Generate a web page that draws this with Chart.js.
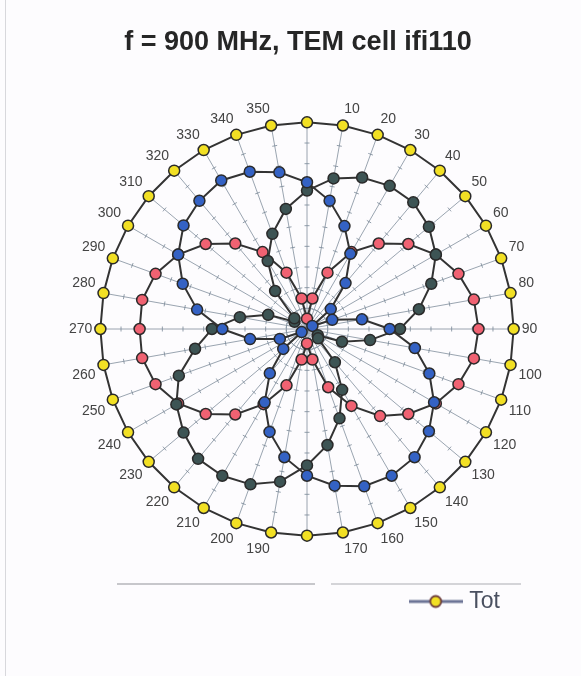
<!DOCTYPE html>
<html>
<head>
<meta charset="utf-8">
<script src="https://cdn.jsdelivr.net/npm/chart.js@4/dist/chart.umd.min.js"></script>
<style>
  html, body { margin: 0; padding: 0; background: #fdfcfe; }
  body { width: 581px; height: 676px; position: relative; overflow: hidden; }
  #wrap { position: absolute; left: 0; top: 0; width: 581px; height: 676px; }
  #edge { position: absolute; left: 5px; top: 0; width: 1px; height: 676px; background: #d8d8dc; }
  .faint { position: absolute; height: 2px; top: 583px; background: #d4d4d8; }
</style>
</head>
<body>
<div id="edge"></div>
<div class="faint" style="left:117px; width:198px; background:#9a9aa0; opacity:0.55;"></div>
<div class="faint" style="left:331px; width:190px;"></div>
<div id="wrap"><canvas id="c" width="581" height="676"></canvas></div>
<script>
// angle labels (degrees); 0 and 180 are not shown in the original (empty)
const angleLabels = [[], '10', '20', '30', '40', '50', '60', '70', '80', '90', '100', '110', '120', '130', '140', '150', '160', '170',
                     [], '190', '200', '210', '220', '230', '240', '250', '260', '270', '280', '290', '300', '310', '320', '330', '340', '350'];

const totValues = [1,1,1,1,1,1,1,1,1,1,1,1,1,1,1,1,1,1,1,1,1,1,1,1,1,1,1,1,1,1,1,1,1,1,1,1];

const blueValues = [0.71, 0.63, 0.53, 0.42, 0.29, 0.15, 0.03, 0.13, 0.27, 0.40, 0.53, 0.63, 0.71, 0.77, 0.81, 0.82, 0.81, 0.77,
                    0.71, 0.63, 0.53, 0.41, 0.28, 0.15, 0.03, 0.14, 0.28, 0.41, 0.54, 0.64, 0.72, 0.78, 0.81, 0.83, 0.81, 0.77];

const grayValues = [0.67, 0.74, 0.78, 0.80, 0.80, 0.77, 0.72, 0.64, 0.55, 0.45, 0.31, 0.18, 0.06, 0.07, 0.21, 0.34, 0.46, 0.57,
                    0.66, 0.75, 0.80, 0.82, 0.82, 0.78, 0.73, 0.66, 0.55, 0.46, 0.33, 0.20, 0.07, 0.08, 0.24, 0.38, 0.49, 0.59];

const redValues = [0.05, 0.15, 0.29, 0.43, 0.54, 0.64, 0.72, 0.78, 0.82, 0.83, 0.82, 0.78, 0.72, 0.64, 0.55, 0.43, 0.30, 0.15,
                   0.07, 0.15, 0.29, 0.42, 0.54, 0.64, 0.72, 0.78, 0.81, 0.81, 0.81, 0.78, 0.72, 0.64, 0.54, 0.43, 0.29, 0.15];

const titleText = 'f = 900 MHz, TEM cell ifi110';
const NBSP = '\u00a0';

// legend symbol: line with a yellow marker
function legendSymbol() {
  const cv = document.createElement('canvas');
  cv.width = 54; cv.height = 16;
  const g = cv.getContext('2d');
  g.strokeStyle = '#6c7496'; g.lineWidth = 3;
  g.beginPath(); g.moveTo(0, 8); g.lineTo(54, 8); g.stroke();
  g.fillStyle = '#f2e024'; g.strokeStyle = '#6b3a3a'; g.lineWidth = 1.8;
  g.beginPath(); g.arc(27, 8, 5.5, 0, Math.PI * 2); g.fill(); g.stroke();
  return cv;
}

// small tick marks on every spoke
const spokeTicks = {
  id: 'spokeTicks',
  beforeDatasetsDraw(chart) {
    const s = chart.scales.r;
    const ctx = chart.ctx;
    ctx.save();
    ctx.strokeStyle = 'rgba(120,135,150,0.8)';
    ctx.lineWidth = 1;
    for (let i = 0; i < angleLabels.length; i++) {
      const a = s.getIndexAngle(i);
      const px = Math.cos(a), py = Math.sin(a);
      for (let k = 1; k < 10; k++) {
        const p = s.getPointPositionForValue(i, k / 10);
        ctx.beginPath();
        ctx.moveTo(p.x - px * 2.5, p.y - py * 2.5);
        ctx.lineTo(p.x + px * 2.5, p.y + py * 2.5);
        ctx.stroke();
      }
    }
    ctx.restore();
  }
};

const pointCommon = { pointRadius: 5.5, pointBorderWidth: 1.5, pointBorderColor: '#2a2a2a', borderColor: '#333', borderWidth: 2, fill: false, pointHoverRadius: 5.5 };

new Chart(document.getElementById('c'), {
  type: 'radar',
  data: {
    labels: angleLabels,
    datasets: [
      Object.assign({ label: 'Tot', data: totValues, pointBackgroundColor: '#f2e024', backgroundColor: '#f2e024' }, pointCommon),
      Object.assign({ label: 'Ex', data: blueValues, pointBackgroundColor: '#3462c4', backgroundColor: '#3462c4' }, pointCommon),
      Object.assign({ label: 'Ey', data: grayValues, pointBackgroundColor: '#3d5454', backgroundColor: '#3d5454' }, pointCommon),
      Object.assign({ label: 'Ez', data: redValues, pointBackgroundColor: '#f06272', backgroundColor: '#f06272' }, pointCommon)
    ]
  },
  options: {
    responsive: false,
    animation: false,
    events: [],
    layout: { padding: { left: 67, right: 37, top: 8, bottom: 53 } },
    scales: {
      r: {
        min: 0, max: 1,
        ticks: { display: false, stepSize: 0.1 },
        grid: { display: false },
        angleLines: { display: true, color: 'rgba(120,135,150,0.75)', lineWidth: 1 },
        pointLabels: { display: true, padding: 8, color: '#444', font: { family: 'Liberation Sans, Arial, sans-serif', size: 14 } }
      }
    },
    plugins: {
      title: { display: true, text: titleText + NBSP + NBSP, color: '#262626', font: { family: 'Liberation Sans, Arial, sans-serif', size: 27, weight: 'bold' }, padding: { top: 18, bottom: 35 } },
      legend: {
        display: true, position: 'bottom', align: 'end',
        labels: {
          color: '#4a5060',
          font: { family: 'Liberation Sans, Arial, sans-serif', size: 23 },
          usePointStyle: true,
          pointStyle: legendSymbol(),
          pointStyleWidth: 44,
          padding: 25,
          generateLabels: (chart) => Chart.defaults.plugins.legend.labels.generateLabels(chart)
            .filter((item) => item.text === 'Tot')
            .map((item) => Object.assign(item, { text: item.text + NBSP + NBSP + NBSP }))
        }
      },
      tooltip: { enabled: false }
    }
  },
  plugins: [spokeTicks]
});
</script>
</body>
</html>
